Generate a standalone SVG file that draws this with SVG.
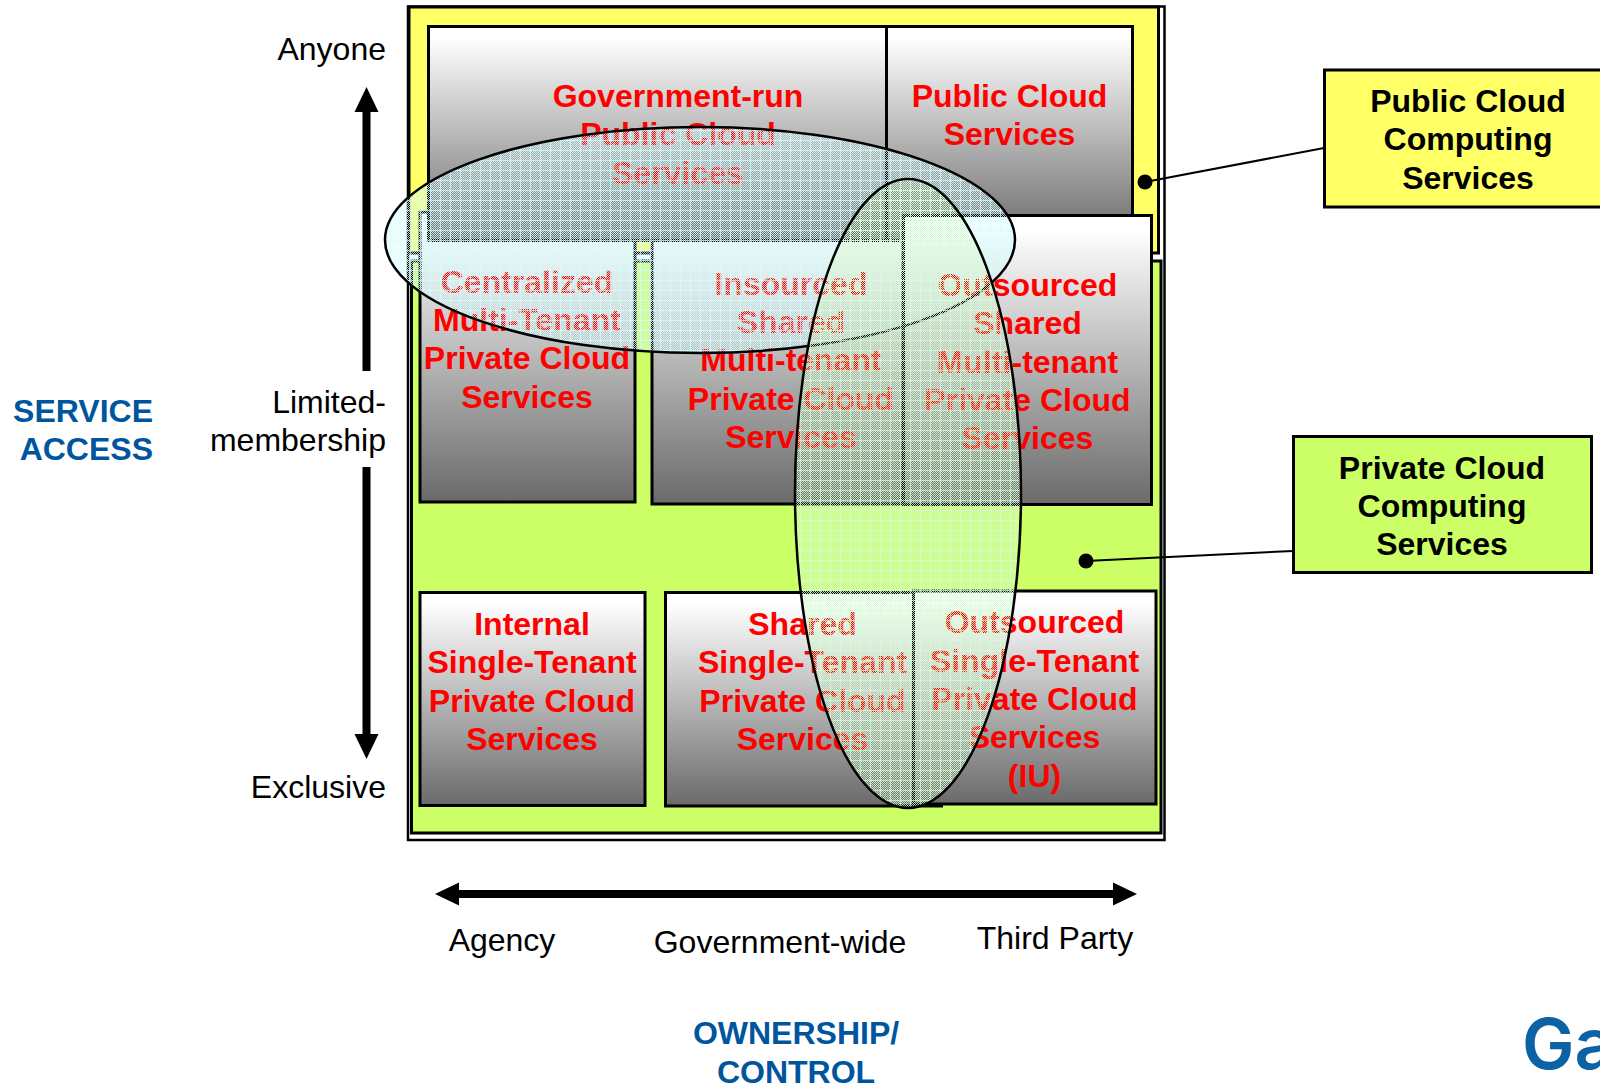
<svg xmlns="http://www.w3.org/2000/svg" width="1600" height="1085" viewBox="0 0 1600 1085">
<style>
text{font-family:"Liberation Sans",Arial,sans-serif}
.r{font-size:32px;font-weight:bold;fill:#f00;text-anchor:middle}
.b{stroke:#000;stroke-width:3}
.k{font-size:32px;fill:#000}
.e{text-anchor:end}
.m{text-anchor:middle}
.u{font-size:32px;font-weight:bold;fill:#00569e}
.c{font-size:32px;font-weight:bold;fill:#000;text-anchor:middle}
.ell{stroke:#000;stroke-width:2.500}
</style>
<defs>
<linearGradient id="g" x1="0" y1="0" x2="0" y2="1"><stop offset=".05" stop-color="#fff"/><stop offset="1" stop-color="#6a6a6a"/></linearGradient>
<pattern id="ca" width="2" height="2" patternUnits="userSpaceOnUse"><path d="M0 0h1v1H0zM1 1h1v1H1z" fill="#d4fbfb" fill-opacity=".85"/></pattern>
<pattern id="cb" width="2" height="2" patternUnits="userSpaceOnUse"><path d="M0 0h1v1H0zM1 1h1v1H1z" fill="#d4fcd4" fill-opacity=".85"/></pattern>
<pattern id="pa" width="10" height="10" patternUnits="userSpaceOnUse"><rect width="10" height="10" fill="url(#ca)"/><path d="M0 .5H10M.5 0V10" stroke="#d4ffff" stroke-opacity=".7"/></pattern>
<pattern id="pb" width="10" height="10" patternUnits="userSpaceOnUse"><rect width="10" height="10" fill="url(#cb)"/><path d="M0 .5H10M.5 0V10" stroke="#d4ffd4" stroke-opacity=".7"/></pattern>
</defs>
<g id="frame">
<rect x="408" y="6.500" width="756.500" height="833.500" fill="#fff" stroke="#000" stroke-width="2.500"/>
<rect x="409" y="7" width="749.500" height="246" fill="#ffff66" stroke="#000" stroke-width="3"/>
<rect x="411.500" y="261" width="749.500" height="572" fill="#ccff66" stroke="#000" stroke-width="3"/>
</g>
<g id="centralized"><rect x="420" y="212" width="215" height="290" class="b" fill="url(#g)"/><text class="r"><tspan x="527" y="293">Centralized</tspan><tspan x="527" y="331">Multi-Tenant</tspan><tspan x="527" y="369">Private Cloud</tspan><tspan x="527" y="408">Services</tspan></text></g>
<g id="insourced"><rect x="652" y="212" width="251" height="292" class="b" fill="url(#g)"/><text class="r"><tspan x="791" y="295">Insourced</tspan><tspan x="791" y="333">Shared</tspan><tspan x="791" y="371">Multi-tenant</tspan><tspan x="791" y="410">Private Cloud</tspan><tspan x="791" y="448">Services</tspan></text></g>
<g id="gov"><rect x="428.500" y="26.500" width="458" height="214" class="b" fill="url(#g)"/><text class="r"><tspan x="678" y="107">Government-run</tspan><tspan x="678" y="145">Public Cloud</tspan><tspan x="678" y="183.500">Services</tspan></text></g>
<g id="public"><rect x="886.500" y="26.500" width="246" height="214" class="b" fill="url(#g)"/><text class="r"><tspan x="1009.500" y="107">Public Cloud</tspan><tspan x="1009.500" y="145">Services</tspan></text></g>
<g id="outsourced"><rect x="903.500" y="215.500" width="248" height="289" class="b" fill="url(#g)"/><text class="r"><tspan x="1027.500" y="296">Outsourced</tspan><tspan x="1027.500" y="334">Shared</tspan><tspan x="1027.500" y="372.500">Multi-tenant</tspan><tspan x="1027.500" y="411">Private Cloud</tspan><tspan x="1027.500" y="449">Services</tspan></text></g>
<g id="internal"><rect x="420" y="592.500" width="225" height="213" class="b" fill="url(#g)"/><text class="r"><tspan x="532" y="635">Internal</tspan><tspan x="532" y="673">Single-Tenant</tspan><tspan x="532" y="712">Private Cloud</tspan><tspan x="532" y="750">Services</tspan></text></g>
<g id="shared"><rect x="665.500" y="592.500" width="276" height="213.500" class="b" fill="url(#g)"/><text class="r"><tspan x="802.500" y="635">Shared</tspan><tspan x="802.500" y="673">Single-Tenant</tspan><tspan x="802.500" y="712">Private Cloud</tspan><tspan x="802.500" y="750">Services</tspan></text></g>
<g id="outsourced-single"><rect x="913.500" y="591" width="242.500" height="213" class="b" fill="url(#g)"/><text class="r"><tspan x="1034.500" y="633">Outsourced</tspan><tspan x="1034.500" y="672">Single-Tenant</tspan><tspan x="1034.500" y="710">Private Cloud</tspan><tspan x="1034.500" y="748">Services</tspan><tspan x="1034.500" y="787">(IU)</tspan></text></g>
<g id="ellipse-public"><ellipse cx="700" cy="240" rx="315" ry="113" fill="url(#pa)" class="ell"/></g>
<g id="ellipse-private"><ellipse cx="908" cy="493.500" rx="113" ry="314.500" fill="url(#pb)" class="ell"/></g>
<g id="connectors" stroke="#000" fill="#000">
<path d="M1145 182L1324 148" stroke-width="2" fill="none"/>
<circle cx="1145" cy="182" r="7.500" stroke="none"/>
<path d="M1086 561L1293 551" stroke-width="2" fill="none"/>
<circle cx="1086" cy="561" r="7.500" stroke="none"/>
<path d="M366.500 87L378.500 112H370.500V371H362.500V112H354.500Z" stroke="none"/>
<path d="M366.500 759L378.500 734H370.500V467H362.500V734H354.500Z" stroke="none"/>
<path d="M435 894L459 882.500V890H1113V882.500L1137 894L1113 905.500V898H459V905.500Z" stroke="none"/>
</g>
<g id="callout-public"><rect x="1324.500" y="70" width="290" height="137" fill="#ffff66" stroke="#000" stroke-width="3"/><text class="c"><tspan x="1468" y="112">Public Cloud</tspan><tspan x="1468" y="150">Computing</tspan><tspan x="1468" y="189">Services</tspan></text></g>
<g id="callout-private"><rect x="1293.500" y="436.500" width="298" height="136" fill="#ccff66" stroke="#000" stroke-width="3"/><text class="c"><tspan x="1442" y="479">Private Cloud</tspan><tspan x="1442" y="517">Computing</tspan><tspan x="1442" y="555">Services</tspan></text></g>
<g id="labels">
<text class="k e" x="386" y="60">Anyone</text>
<text class="k e"><tspan x="386" y="413">Limited-</tspan><tspan x="386" y="451">membership</tspan></text>
<text class="k e" x="386" y="798">Exclusive</text>
<text class="u e"><tspan x="153" y="422">SERVICE</tspan><tspan x="153" y="460">ACCESS</tspan></text>
<text class="k m" x="502" y="951">Agency</text>
<text class="k m" x="780" y="953">Government-wide</text>
<text class="k m" x="1055" y="949">Third Party</text>
<text class="u m"><tspan x="796" y="1044">OWNERSHIP/</tspan><tspan x="796" y="1083">CONTROL</tspan></text>
<text x="1522" y="1069" style="font-family:Inter,sans-serif;font-size:70px;font-weight:600;fill:#0b62a4">Ga</text>
</g>
</svg>
